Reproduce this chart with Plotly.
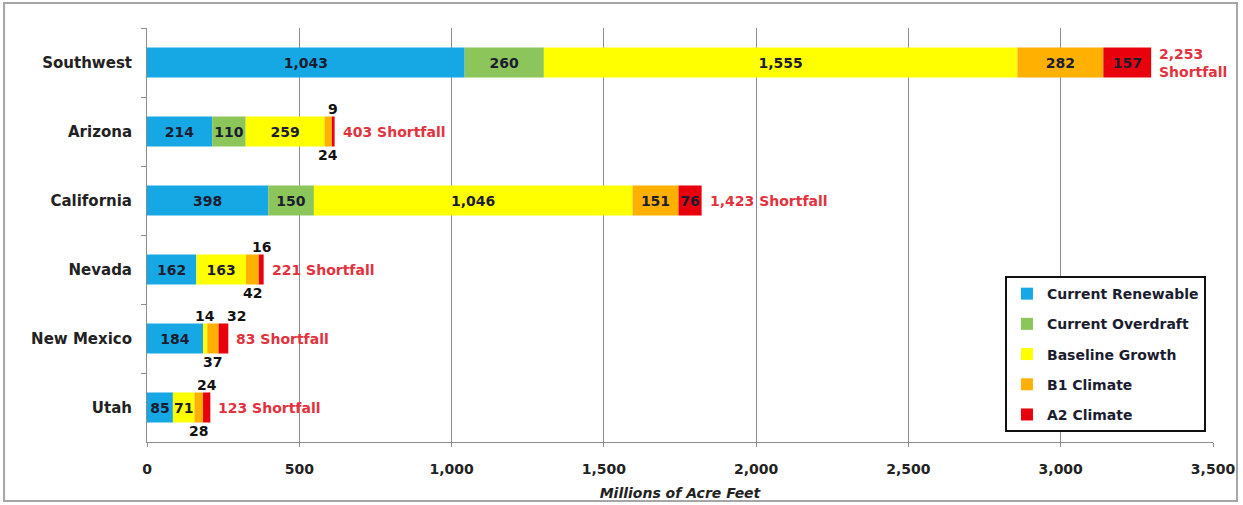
import plotly.graph_objects as go

regions = ["Southwest", "Arizona", "California", "Nevada", "New Mexico", "Utah"]
current_renewable = [1043, 214, 398, 162, 184, 85]
current_overdraft = [260, 110, 150, 0, 0, 0]
baseline_growth = [1555, 259, 1046, 163, 14, 71]
b1_climate = [282, 24, 151, 42, 37, 28]
a2_climate = [157, 9, 76, 16, 32, 24]
shortfall_labels = ["2,253<br>Shortfall", "403 Shortfall", "1,423 Shortfall",
                    "221 Shortfall", "83 Shortfall", "123 Shortfall"]
x_ticks = [0, 500, 1000, 1500, 2000, 2500, 3000, 3500]

series = [
    ("Current Renewable", current_renewable, "#16A8E4"),
    ("Current Overdraft", current_overdraft, "#8CC55A"),
    ("Baseline Growth", baseline_growth, "#FFFF00"),
    ("B1 Climate", b1_climate, "#FFB000"),
    ("A2 Climate", a2_climate, "#E8000C"),
]

# where the value label of a small segment goes (default: inside the bar)
outside = {
    ("Baseline Growth", "New Mexico"): ("above", 0),
    ("B1 Climate", "Arizona"): ("below", 0),
    ("B1 Climate", "Nevada"): ("below", 0),
    ("B1 Climate", "New Mexico"): ("below", 0),
    ("B1 Climate", "Utah"): ("below", 0),
    ("A2 Climate", "Arizona"): ("above", 0),
    ("A2 Climate", "Nevada"): ("above", 0),
    ("A2 Climate", "New Mexico"): ("above", 13),
    ("A2 Climate", "Utah"): ("above", 0),
}

BOLD = "DejaVu Sans"
fig = go.Figure()
annotations = []
base = [0] * len(regions)
for i, (name, vals, color) in enumerate(series):
    texts = []
    for j, (r, v) in enumerate(zip(regions, vals)):
        if v == 0:
            texts.append("")
        elif (name, r) in outside:
            texts.append("")
            pos, xs = outside[(name, r)]
            annotations.append(dict(
                x=base[j] + v / 2, y=r, xref="x", yref="y", text=f"{v:,}",
                showarrow=False, yshift=23 if pos == "above" else -23, xshift=xs,
                font=dict(family=BOLD, size=14, color="#111111", weight="bold")))
        else:
            texts.append(f"{v:,}")
    fig.add_trace(go.Bar(
        y=regions, x=vals, base=base[:], orientation="h", name=name,
        marker=dict(color=color, line=dict(width=0)),
        text=texts, textposition="inside", insidetextanchor="middle",
        textangle=0, constraintext="none",
        textfont=dict(family=BOLD, size=14, color="#1c1c30", weight="bold"),
        legendgroup=f"g{i}",
    ))
    base = [b + v for b, v in zip(base, vals)]

for r, total, lab in zip(regions, base, shortfall_labels):
    annotations.append(dict(
        x=total, y=r, xref="x", yref="y", text=lab, showarrow=False,
        xanchor="left", xshift=6, align="left",
        font=dict(family=BOLD, size=14, color="#E2323E", weight="bold")))

fig.update_layout(
    width=1243, height=505,
    margin=dict(l=147, r=30, t=28, b=63, autoexpand=False),
    paper_bgcolor="white", plot_bgcolor="white",
    barmode="overlay", bargap=0.565,
    showlegend=True,
    legend=dict(
        x=0.9934, y=0.024, xanchor="right", yanchor="bottom",
        bgcolor="white", bordercolor="#111111", borderwidth=2,
        font=dict(family=BOLD, size=14, color="#1c1c30", weight="bold"),
        traceorder="grouped", tracegroupgap=9,
    ),
    annotations=annotations,
    shapes=[dict(type="rect", xref="paper", yref="paper",
                 x0=-0.1341, x1=1.0225, y0=-0.1425, y1=1.0604,
                 line=dict(color="#A6A6A6", width=2), fillcolor="rgba(0,0,0,0)",
                 layer="below")],
)
fig.update_xaxes(
    range=[0, 3500], tickvals=x_ticks, ticktext=[f"{t:,}" for t in x_ticks],
    showgrid=True, gridcolor="#8C8C8C", gridwidth=1, zeroline=False,
    showline=True, linecolor="#8C8C8C", linewidth=1,
    ticks="outside", ticklen=4, tickcolor="#8C8C8C",
    tickfont=dict(family=BOLD, size=14, color="#222222", weight="bold"),
    ticklabelstandoff=10, automargin=False,
    title=dict(text="<i>Millions of Acre Feet</i>", standoff=12,
               font=dict(family=BOLD, size=14, color="#222222", weight="bold")),
)
fig.update_yaxes(
    categoryorder="array", categoryarray=regions, autorange="reversed",
    showline=True, linecolor="#8C8C8C", linewidth=1,
    ticks="outside", ticklen=5, tickcolor="#8C8C8C", tickson="boundaries",
    showgrid=False, ticklabelstandoff=11, automargin=False,
    tickfont=dict(family=BOLD, size=15, color="#222222", weight="bold"),
)

fig.write_html("out.html", config={"displayModeBar": False},
               post_script="document.body.style.margin='0';document.body.style.padding='0';")
